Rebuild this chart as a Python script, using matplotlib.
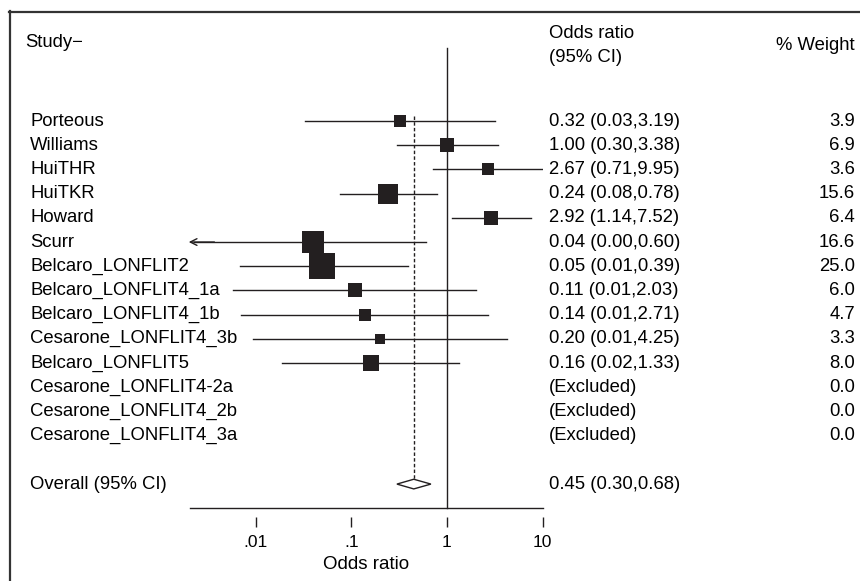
import numpy as np
import matplotlib
matplotlib.use('Agg')
import matplotlib.pyplot as plt
from matplotlib.lines import Line2D
from matplotlib import transforms

plt.rcParams['font.family'] = ['Liberation Sans', 'DejaVu Sans']

# data
studies = ['Porteous', 'Williams', 'HuiTHR', 'HuiTKR', 'Howard', 'Scurr',
           'Belcaro_LONFLIT2', 'Belcaro_LONFLIT4_1a', 'Belcaro_LONFLIT4_1b',
           'Cesarone_LONFLIT4_3b', 'Belcaro_LONFLIT5', 'Cesarone_LONFLIT4-2a',
           'Cesarone_LONFLIT4_2b', 'Cesarone_LONFLIT4_3a']
or_est = [0.32, 1.00, 2.67, 0.24, 2.92, 0.04, 0.05, 0.11, 0.14, 0.20, 0.16,
          np.nan, np.nan, np.nan]
ci_lo = [0.033, 0.30, 0.71, 0.077, 1.14, 0.0, 0.0069, 0.0058, 0.0071, 0.0094,
         0.019, np.nan, np.nan, np.nan]
ci_hi = [3.19, 3.38, 9.95, 0.78, 7.52, 0.60, 0.39, 2.03, 2.71, 4.25, 1.33,
         np.nan, np.nan, np.nan]
or_text = ['0.32 (0.03,3.19)', '1.00 (0.30,3.38)', '2.67 (0.71,9.95)',
           '0.24 (0.08,0.78)', '2.92 (1.14,7.52)', '0.04 (0.00,0.60)',
           '0.05 (0.01,0.39)', '0.11 (0.01,2.03)', '0.14 (0.01,2.71)',
           '0.20 (0.01,4.25)', '0.16 (0.02,1.33)', '(Excluded)', '(Excluded)',
           '(Excluded)']
weights = [3.9, 6.9, 3.6, 15.6, 6.4, 16.6, 25.0, 6.0, 4.7, 3.3, 8.0, 0.0, 0.0, 0.0]

overall = 0.45
overall_lo = 0.30
overall_hi = 0.68
overall_text = '0.45 (0.30,0.68)'

ticks = [0.01, 0.1, 1, 10]
tick_labels = ['.01', '.1', '1', '10']

ink = '#231f20'
W, H = 860, 581
fig = plt.figure(figsize=(W / 100, H / 100), dpi=100)

# axes placed in pixel terms
ax = fig.add_axes([190 / W, (H - 517) / H, (543 - 190) / W, (517 - 30) / H])
xlo, xhi = 0.00206, 10.1
ax.set_xscale('log')
ax.set_xlim(xlo, xhi)
ax.set_ylim(16.36, -3.76)
for s in ax.spines.values():
    s.set_visible(False)
ax.set_yticks([])
ax.set_xticks(ticks)
ax.set_xticklabels(tick_labels, fontsize=12.5)
ax.xaxis.set_minor_locator(matplotlib.ticker.NullLocator())
ax.tick_params(axis='x', length=7, width=1, color=ink, pad=6, labelcolor='black')
ax.set_xlabel('Odds ratio', fontsize=13.5, labelpad=4)

rows = np.arange(len(studies))
n_overall = len(studies) + 1

# reference lines
ax.plot([1, 1], [-3.02, 16], color=ink, lw=1.0, zorder=1)
ax.plot([overall, overall], [-0.2, n_overall - 0.2], color=ink, lw=1.0,
        ls=(0, (2.5, 1.6)), zorder=1)
ax.plot([xlo, 10], [16, 16], color=ink, lw=1.0, clip_on=False)

# study CIs and boxes
for i in rows:
    if np.isnan(or_est[i]):
        continue
    if ci_lo[i] < xlo:
        ax.plot([xlo * 1.1, ci_hi[i]], [i, i], color=ink, lw=1.0, zorder=2)
        ax.annotate('', xy=(xlo * 0.97, i), xytext=(xlo * 1.8, i),
                    arrowprops=dict(arrowstyle='->', color=ink, lw=1.0,
                                    mutation_scale=12, shrinkA=0, shrinkB=0),
                    annotation_clip=False, zorder=2)
    else:
        ax.plot([ci_lo[i], ci_hi[i]], [i, i], color=ink, lw=1.0, zorder=2)
    side = (2 + 4.8 * np.sqrt(weights[i])) * 0.72
    ax.plot(or_est[i], i, marker='s', ms=side, mew=0, color=ink, zorder=3,
            clip_on=False)

# overall diamond
dx = [overall_lo, overall, overall_hi, overall, overall_lo]
dy = [n_overall, n_overall - 0.2, n_overall, n_overall + 0.2, n_overall]
ax.fill(dx, dy, facecolor='white', edgecolor=ink, lw=1.0, zorder=3)

# text columns
tr = transforms.blended_transform_factory(fig.transFigure, ax.transData)
fs = 13.3
ax.text(25 / W, -3.26, 'Study\u2212', transform=tr, fontsize=fs, va='center')
ax.text(549 / W, -3.6, 'Odds ratio', transform=tr, fontsize=fs, va='center')
ax.text(549 / W, -2.64, '(95% CI)', transform=tr, fontsize=fs, va='center')
ax.text(855 / W, -3.1, '% Weight', transform=tr, fontsize=fs, va='center',
        ha='right')
for i in rows:
    ax.text(30 / W, i, studies[i], transform=tr, fontsize=fs, va='center')
    ax.text(549 / W, i, or_text[i], transform=tr, fontsize=fs, va='center')
    ax.text(855 / W, i, f'{weights[i]:.1f}', transform=tr, fontsize=fs,
            va='center', ha='right')
ax.text(30 / W, n_overall, 'Overall (95% CI)', transform=tr, fontsize=fs,
        va='center')
ax.text(549 / W, n_overall, overall_text, transform=tr, fontsize=fs,
        va='center')

# outer frame (top and left edges visible)
fig.add_artist(Line2D([9 / W, 1], [(H - 12) / H] * 2, color='#333333', lw=1.6,
                      transform=fig.transFigure))
fig.add_artist(Line2D([9.5 / W] * 2, [0, (H - 11) / H], color='#333333', lw=1.6,
                      transform=fig.transFigure))

fig.savefig('out.png', dpi=100)
